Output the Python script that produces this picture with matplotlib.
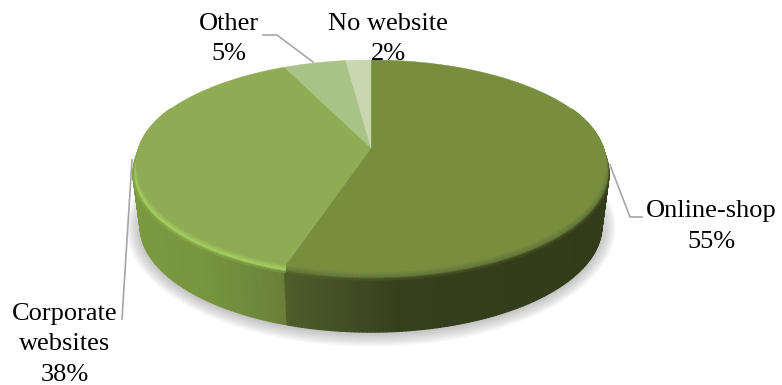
import numpy as np
import matplotlib
matplotlib.use('Agg')
import matplotlib.pyplot as plt
from matplotlib.collections import PolyCollection
from matplotlib.colors import to_rgb
from matplotlib.patches import Polygon

categories = ['Online-shop', 'Corporate\nwebsites', 'Other', 'No website']
shares = [55, 38, 5, 2]
top_colors = ['#788e3f', '#8fac55', '#a9c285', '#c9d6ae']
lip_colors = ['#64783a', '#a6cf60', '#a9c285', '#c9d6ae']

# wall colour along x for the two slices that reach the front
wall_x = [[285, 340, 400, 610], [130, 200, 250, 285]]
wall_c = [['#4d5f2c', '#434f24', '#363f1c', '#333b1a'],
          ['#7b9a3f', '#78953f', '#6f8a3c', '#6a7f38']]

# anchors sit on the baseline of the last text line
label_pos = [(711, 248), (65, 381), (229, 60), (388, 60)]
leaders = [[(610, 165), (630, 217), (642, 217)],
           [(132, 160), (122, 319)],
           [(263, 35), (277, 35), (313, 62)]]

# pie projection, in pixel units
apex_x, apex_y = 371, 148
rad_x, rad_y = 234.5, 103
tilt = 0.17
lip = 8
depth = 60
taper = 0.03
inset = 0.014
lip_peak = 0.7


def project(ang):
    # ang is clockwise from 12 o'clock
    u = np.sin(ang)
    v = np.cos(ang)
    d = 1 + tilt * v
    return apex_x + rad_x * u / d, apex_y - rad_y * v / d


def inner_x(ang, x):
    # flat face stops short of the rim along the front half
    w = np.clip((0.35 - np.cos(ang)) / 0.5, 0, 1)
    return apex_x + (x - apex_x) * (1 - inset * w)


def hex_mix(a, b, f):
    a, b = np.array(to_rgb(a)), np.array(to_rgb(b))
    return tuple(a + (b - a) * f)


def wall_point(ang, x, y, p):
    # p runs 0..1 over the bevel, then above 1 down the wall
    if p <= 1:
        return inner_x(ang, x) + (x - inner_x(ang, x)) * p, y + lip * p
    dz = lip + (depth - lip) * (p - 1)
    return apex_x + (x - apex_x) * (1 - taper * (p - 1)), y + dz


fig = plt.figure(figsize=(7.82, 3.85), dpi=100, facecolor='white')
ax = fig.add_axes([0, 0, 1, 1])
ax.set_xlim(0, 782)
ax.set_ylim(385, 0)
ax.axis('off')

edges = np.cumsum([0] + shares) / 100 * 2 * np.pi

# soft shadow under the disc
ring = np.linspace(0, 2 * np.pi, 200)
rx, ry = project(ring)
for grow in np.linspace(14, 0, 14):
    sx = apex_x + (rx - apex_x) * (1 - taper + grow / 240)
    sy = 166 + (ry - 166) * (1 + grow / 110) + depth + 1
    ax.add_patch(Polygon(np.column_stack([sx, sy]), fc='#7f7f7f', ec='none', alpha=0.04, zorder=1))

# wall and bevel, built from thin strips; back strips go first
wall_strips = []
bevel_strips = []
for i in range(2):
    a0, a1 = edges[i], edges[i + 1]
    ts = np.linspace(a0, a1, int((a1 - a0) * 70) + 2)
    x, y = project(ts)
    for j in range(len(ts) - 1):
        if np.cos(ts[j]) > 0.4 and np.cos(ts[j + 1]) > 0.4:
            continue
        xm = (x[j] + x[j + 1]) / 2
        wall = tuple(np.interp(xm, wall_x[i], [to_rgb(c)[k] for c in wall_c[i]]) for k in range(3))
        steps = np.r_[np.linspace(0, 1, 9), 2]
        for s in range(len(steps) - 1):
            f = (s + 0.5) / 8
            quad = [wall_point(ts[j], x[j], y[j], steps[s]),
                    wall_point(ts[j + 1], x[j + 1], y[j + 1], steps[s]),
                    wall_point(ts[j + 1], x[j + 1], y[j + 1], steps[s + 1]),
                    wall_point(ts[j], x[j], y[j], steps[s + 1])]
            if s == 8:
                wall_strips.append((y[j], quad, wall))
            elif f < lip_peak:
                bevel_strips.append((y[j], quad, hex_mix(top_colors[i], lip_colors[i], f / lip_peak)))
            else:
                bevel_strips.append((y[j], quad, hex_mix(lip_colors[i], wall, (f - lip_peak) / (1 - lip_peak))))

wall_strips.sort(key=lambda q: q[0])
strips = wall_strips + bevel_strips
ax.add_collection(PolyCollection([q[1] for q in strips], facecolors=[q[2] for q in strips],
                                 edgecolors='face', linewidths=0.9, zorder=2))

# top face
for i in range(len(shares)):
    ts = np.linspace(edges[i], edges[i + 1], 160)
    x, y = project(ts)
    x = inner_x(ts, x)
    pts = np.column_stack([np.r_[apex_x, x], np.r_[apex_y, y]])
    ax.add_patch(Polygon(pts, fc=top_colors[i], ec=top_colors[i], lw=0.3, zorder=3))

for line in leaders:
    xs, ys = zip(*line)
    ax.plot(xs, ys, color='#a6a6a6', lw=1.2, zorder=4)

for name, val, pos in zip(categories, shares, label_pos):
    ax.text(pos[0], pos[1], f'{name}\n{val}%', ha='center', va='baseline', family='Liberation Serif',
            fontsize=19, linespacing=1.5, color='black', zorder=5)

fig.savefig('out.png', dpi=100)
